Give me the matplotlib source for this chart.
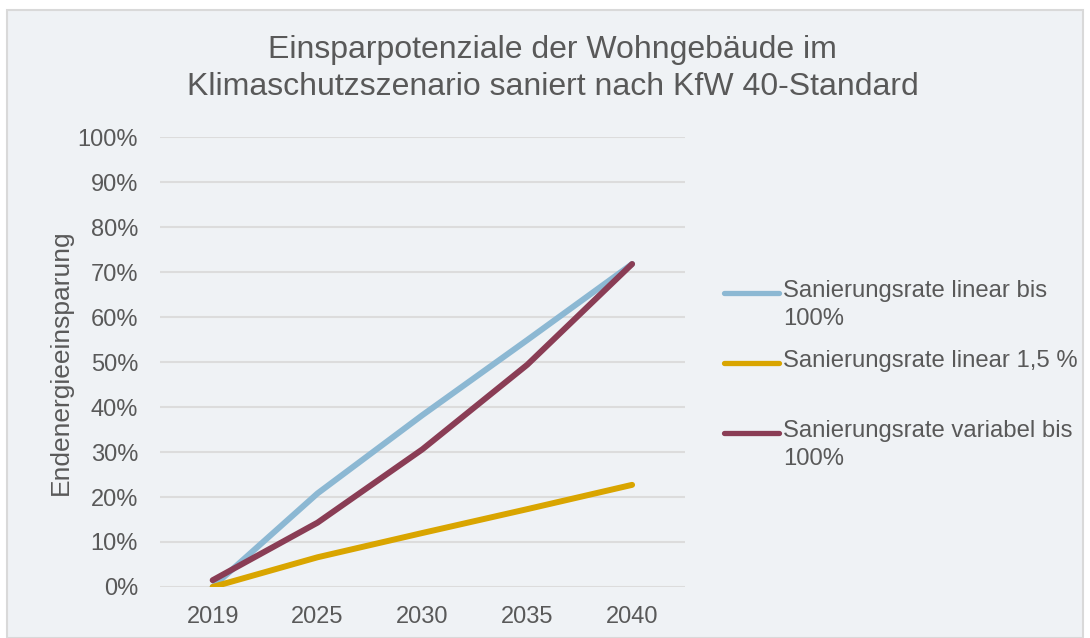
import matplotlib.pyplot as plt
from matplotlib.lines import Line2D
from matplotlib.patches import Rectangle
from matplotlib.ticker import PercentFormatter

plt.rcParams['font.family'] = ['Liberation Sans', 'DejaVu Sans']

years = ["2019", "2025", "2030", "2035", "2040"]
linear_100 = [0.0, 20.8, 38.2, 54.9, 71.8]
linear_15 = [0.0, 6.6, 12.0, 17.3, 22.7]
variabel_100 = [1.5, 14.3, 30.6, 49.4, 71.8]

labels = ["Sanierungsrate linear bis\n100%", "Sanierungsrate linear 1,5 %",
          "Sanierungsrate variabel bis\n100%"]
colors = ["#8cb8d3", "#d9a500", "#8a3d55"]
series = [linear_100, linear_15, variabel_100]

txt = "#595959"
bg = "#eff2f5"

fig = plt.figure(figsize=(10.9, 6.38), dpi=100, facecolor="white")
fig.patches.append(Rectangle((7 / 1090, 0), 1076 / 1090, 628 / 638, transform=fig.transFigure,
                             facecolor=bg, edgecolor="#d9d9d9", linewidth=1.5, zorder=-5))

ax = fig.add_axes([0.147, 0.080, 0.481, 0.705])
ax.set_facecolor("none")
x = range(len(years))
# draw order: blue, yellow, red on top
for vals, c in zip(series, colors):
    ax.plot(x, vals, color=c, linewidth=4.3, solid_capstyle="round", solid_joinstyle="round", zorder=3)

ax.set_xlim(-0.5, len(years) - 0.5)
ax.set_ylim(0, 100)
ax.set_yticks(range(0, 101, 10))
ax.yaxis.set_major_formatter(PercentFormatter(decimals=0))
ax.set_xticks(list(x))
ax.set_xticklabels(years)
ax.grid(axis="y", color="#dcdcdc", linewidth=1.5)
ax.set_axisbelow(True)
for s in ax.spines.values():
    s.set_visible(False)
ax.tick_params(axis="both", length=0, labelsize=17, colors=txt)
ax.tick_params(axis="y", pad=16)
ax.tick_params(axis="x", pad=14)
ax.set_ylabel("Endenergieeinsparung", fontsize=19, color=txt, labelpad=3)

fig.text(0.507, 0.892, "Einsparpotenziale der Wohngebäude im\nKlimaschutzszenario saniert nach KfW 40-Standard",
         ha="center", va="center", fontsize=23, color=txt, linespacing=1.3)

# legend drawn by hand so the handle sits on the first text line
leg_y = [293, 363, 433]
for lab, c, yy in zip(labels, colors, leg_y):
    fy = 1 - yy / 638
    fig.lines.append(Line2D([724 / 1090, 779 / 1090], [fy, fy], transform=fig.transFigure,
                            color=c, linewidth=3.8, solid_capstyle="round"))
    fig.text(783 / 1090, 1 - (yy - 13) / 638, lab, ha="left", va="top", fontsize=17.2,
             color=txt, linespacing=1.35)

fig.savefig("out.png", dpi=100, facecolor="white")
